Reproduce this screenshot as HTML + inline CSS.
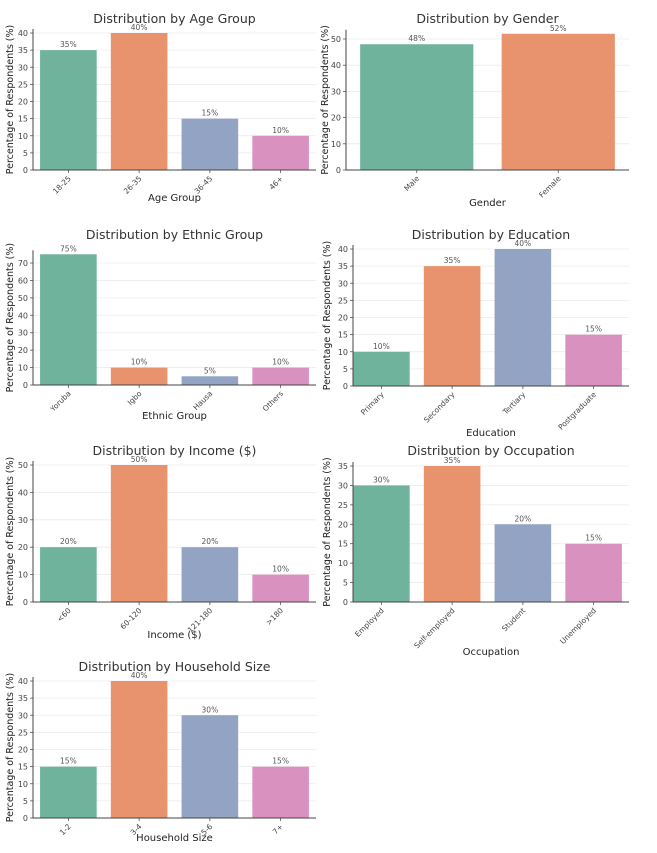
<!DOCTYPE html>
<html><head><meta charset="utf-8">
<style>
html,body{margin:0;padding:0;background:#fff;}
svg{display:block;font-family:"DejaVu Sans","Liberation Sans",sans-serif;}
</style></head>
<body>
<svg id="chart" width="657" height="853" viewBox="0 0 657 853" xmlns="http://www.w3.org/2000/svg"></svg>
<script>
const ageCats = ["18-25","26-35","36-45","46+"];
const ageVals = [35,40,15,10];
const ageTicks = [0,5,10,15,20,25,30,35,40];
const genderCats = ["Male","Female"];
const genderVals = [48,52];
const genderTicks = [0,10,20,30,40,50];
const ethnicCats = ["Yoruba","Igbo","Hausa","Others"];
const ethnicVals = [75,10,5,10];
const ethnicTicks = [0,10,20,30,40,50,60,70];
const eduCats = ["Primary","Secondary","Tertiary","Postgraduate"];
const eduVals = [10,35,40,15];
const eduTicks = [0,5,10,15,20,25,30,35,40];
const incomeCats = ["<60","60-120","121-180",">180"];
const incomeVals = [20,50,20,10];
const incomeTicks = [0,10,20,30,40,50];
const occCats = ["Employed","Self-employed","Student","Unemployed"];
const occVals = [30,35,20,15];
const occTicks = [0,5,10,15,20,25,30,35];
const hhCats = ["1-2","3-4","5-6","7+"];
const hhVals = [15,40,30,15];
const hhTicks = [0,5,10,15,20,25,30,35,40];

const colors = ["#6fb39c","#e8936e","#93a3c3","#d992bf"];
const svg = document.getElementById('chart');
const NS = "http://www.w3.org/2000/svg";
function mk(tag, attrs, text){
  const e = document.createElementNS(NS, tag);
  for (const k in attrs) e.setAttribute(k, attrs[k]);
  if (text !== undefined) e.textContent = text;
  svg.appendChild(e);
  return e;
}

function drawChart(key, cfg, cats, vals, ticks){
  const yScale = v => cfg.y0 - (v / cfg.refVal) * (cfg.y0 - cfg.refY);
  const period = (cfg.xEnd - cfg.bandStart) / cats.length;
  const xCenter = i => cfg.bandStart + (i + 0.5) * period;
  const bw = period * cfg.wr;
  ticks.forEach(t => {
    const y = yScale(t);
    const g = mk('line', {x1: cfg.spineX, x2: cfg.xEnd, y1: y, y2: y, stroke: '#ebebeb', 'stroke-width': 0.8});
    
    
    const tl = mk('text', {x: cfg.spineX - 5, y: y + 3, 'text-anchor': 'end', 'font-size': 8, fill: '#444'}, String(t));
    
    
    mk('line', {x1: cfg.spineX - 3, x2: cfg.spineX, y1: y, y2: y, stroke: '#555', 'stroke-width': 0.8});
  });
  cats.forEach((c, i) => {
    const cx = xCenter(i);
    const yt = yScale(vals[i]);
    const r = mk('rect', {x: cx - bw/2, y: yt, width: bw, height: cfg.y0 - yt, fill: colors[i % colors.length]});
    
    
    const lv = mk('text', {x: cx, y: yt - 3, 'text-anchor': 'middle', 'font-size': 7.5, fill: '#555'}, vals[i] + '%');
    
    
    mk('line', {x1: cx, x2: cx, y1: cfg.y0, y2: cfg.y0 + 3, stroke: '#555', 'stroke-width': 0.8});
    const tx = cx + 3, ty = cfg.y0 + 9;
    const xl = mk('text', {x: tx, y: ty, 'text-anchor': 'end', 'font-size': 7.5, fill: '#444', transform: 'rotate(-45 ' + tx + ' ' + ty + ')'}, c);
    
    
  });
  const topY = Math.min(yScale(ticks[ticks.length-1]), yScale(Math.max(...vals))) - 4;
  mk('line', {x1: cfg.spineX, x2: cfg.spineX, y1: topY, y2: cfg.y0, stroke: '#444', 'stroke-width': 1});
  mk('line', {x1: cfg.spineX, x2: cfg.xEnd, y1: cfg.y0, y2: cfg.y0, stroke: '#444', 'stroke-width': 1});
  const midX = (cfg.spineX + cfg.xEnd) / 2;
  const t = mk('text', {x: midX, y: cfg.titleY, 'text-anchor': 'middle', 'font-size': 12.5, fill: '#333'}, cfg.title);
  
  
  const xa = mk('text', {x: midX, y: cfg.xlabelY, 'text-anchor': 'middle', 'font-size': 10, fill: '#222'}, cfg.xlabel);
  
  
  const ym = (cfg.y0 + topY) / 2;
  const ya = mk('text', {x: cfg.ylabX, y: ym, 'text-anchor': 'middle', 'font-size': 9.5, fill: '#222', transform: 'rotate(-90 ' + cfg.ylabX + ' ' + ym + ')'}, 'Percentage of Respondents (%)');
  
  
}

const L = {spineX: 33, bandStart: 33, xEnd: 316, wr: 0.8, ylabX: 13};
const R = {spineX: 353, bandStart: 346, xEnd: 629, wr: 0.8, ylabX: 330};
drawChart('age', Object.assign({}, L, {y0: 170, refVal: 40, refY: 33, title: 'Distribution by Age Group', xlabel: 'Age Group', titleY: 23, xlabelY: 201}), ageCats, ageVals, ageTicks);
drawChart('gender', Object.assign({}, R, {spineX: 346, ylabX: 328, y0: 170, refVal: 50, refY: 39, title: 'Distribution by Gender', xlabel: 'Gender', titleY: 23, xlabelY: 206}), genderCats, genderVals, genderTicks);
drawChart('ethnic', Object.assign({}, L, {y0: 385, refVal: 70, refY: 263, title: 'Distribution by Ethnic Group', xlabel: 'Ethnic Group', titleY: 239, xlabelY: 419}), ethnicCats, ethnicVals, ethnicTicks);
drawChart('education', Object.assign({}, R, {y0: 386, refVal: 40, refY: 249, title: 'Distribution by Education', xlabel: 'Education', titleY: 239, xlabelY: 436}), eduCats, eduVals, eduTicks);
drawChart('income', Object.assign({}, L, {y0: 602, refVal: 50, refY: 465, title: 'Distribution by Income ($)', xlabel: 'Income ($)', titleY: 455, xlabelY: 638}), incomeCats, incomeVals, incomeTicks);
drawChart('occupation', Object.assign({}, R, {y0: 602, refVal: 35, refY: 466, title: 'Distribution by Occupation', xlabel: 'Occupation', titleY: 455, xlabelY: 655}), occCats, occVals, occTicks);
drawChart('household', Object.assign({}, L, {y0: 818, refVal: 40, refY: 681, title: 'Distribution by Household Size', xlabel: 'Household Size', titleY: 671, xlabelY: 841}), hhCats, hhVals, hhTicks);
</script>
</body></html>
